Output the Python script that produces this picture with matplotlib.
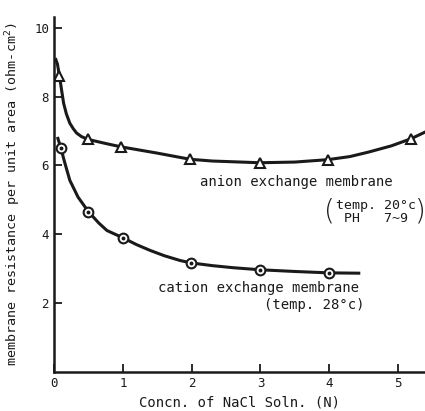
import matplotlib
matplotlib.use("Agg")
import matplotlib.pyplot as plt

# curve traces (N, ohm-cm2)
anion_curve_x = [0.02, 0.05, 0.08, 0.11, 0.14, 0.18, 0.23, 0.28, 0.33, 0.40, 0.49, 0.75, 0.98, 1.50,
                 1.98, 2.30, 2.99, 3.50, 3.98, 4.30, 4.57, 4.90, 5.19, 5.40]
anion_curve_y = [9.12, 8.95, 8.60, 8.20, 7.81, 7.50, 7.23, 7.07, 6.94, 6.84, 6.76, 6.64, 6.54, 6.36,
                 6.18, 6.13, 6.08, 6.10, 6.17, 6.26, 6.39, 6.57, 6.78, 6.98]
cation_curve_x = [0.05, 0.10, 0.15, 0.23, 0.35, 0.50, 0.65, 0.77, 1.00, 1.20, 1.40, 1.60, 1.83,
                  1.99, 2.30, 2.60, 2.99, 3.50, 3.99, 4.45]
cation_curve_y = [6.83, 6.51, 6.13, 5.57, 5.08, 4.66, 4.33, 4.11, 3.90, 3.70, 3.53, 3.38, 3.24,
                  3.17, 3.09, 3.03, 2.97, 2.92, 2.88, 2.87]

# measured points
anion_x = [0.08, 0.49, 0.98, 1.98, 2.99, 3.98, 5.19]
anion_y = [8.60, 6.76, 6.54, 6.18, 6.08, 6.17, 6.78]
cation_x = [0.10, 0.50, 1.00, 1.99, 2.99, 3.99]
cation_y = [6.51, 4.66, 3.90, 3.17, 2.97, 2.88]

xticks = [0, 1, 2, 3, 4, 5]
yticks = [2, 4, 6, 8, 10]

plt.rcParams['font.family'] = ['DejaVu Sans Mono', 'DejaVu Sans']
ink = '#1a1a1a'

fig = plt.figure(figsize=(4.25, 4.11), dpi=100)
ax = fig.add_axes([0.127, 0.095, 0.873, 0.864])

ax.plot(anion_curve_x, anion_curve_y, color=ink, lw=2.2, solid_joinstyle='round', solid_capstyle='butt')
ax.plot(cation_curve_x, cation_curve_y, color=ink, lw=2.2, solid_joinstyle='round', solid_capstyle='butt')
ax.plot(anion_x, anion_y, ls='none', marker='^', ms=7, mfc='white', mec=ink, mew=1.5)
ax.plot(cation_x, cation_y, ls='none', marker='o', ms=7, mfc='white', mec=ink, mew=1.5)
ax.plot(cation_x, cation_y, ls='none', marker='o', ms=1.8, mfc=ink, mec=ink)

ax.set_xlim(0, 5.39)
ax.set_ylim(0, 10.32)
ax.set_xticks(xticks)
ax.set_yticks(yticks)
ax.tick_params(direction='in', length=6, width=1.3, colors=ink, labelsize=9)
for s in ['top', 'right']:
    ax.spines[s].set_visible(False)
for s in ['left', 'bottom']:
    ax.spines[s].set_linewidth(1.8)
    ax.spines[s].set_color(ink)

ax.set_xlabel('Concn. of NaCl Soln. (N)', fontsize=10, color=ink, labelpad=4)
# y label placed by hand so it sits at the far left like the original
fig.text(0.03, 0.528, 'membrane resistance per unit area (ohm-cm$^2$)', fontsize=9.6, color=ink,
         rotation=90, ha='center', va='center')

ax.text(2.12, 5.51, 'anion exchange membrane', fontsize=10, color=ink, va='center')
ax.text(4.68, 4.66, 'temp. 20°c\nPH   7~9', fontsize=9.5, color=ink, va='center', ha='center',
        linespacing=1.0)
ax.text(4.0, 4.66, '(', fontsize=20, color=ink, va='center', ha='center', family='DejaVu Sans',
        fontweight='light')
ax.text(5.33, 4.66, ')', fontsize=20, color=ink, va='center', ha='center', family='DejaVu Sans',
        fontweight='light')
ax.text(1.51, 2.45, 'cation exchange membrane', fontsize=10, color=ink, va='center')
ax.text(3.78, 1.95, '(temp. 28°c)', fontsize=10, color=ink, va='center', ha='center')

fig.savefig('out.png', dpi=100)
